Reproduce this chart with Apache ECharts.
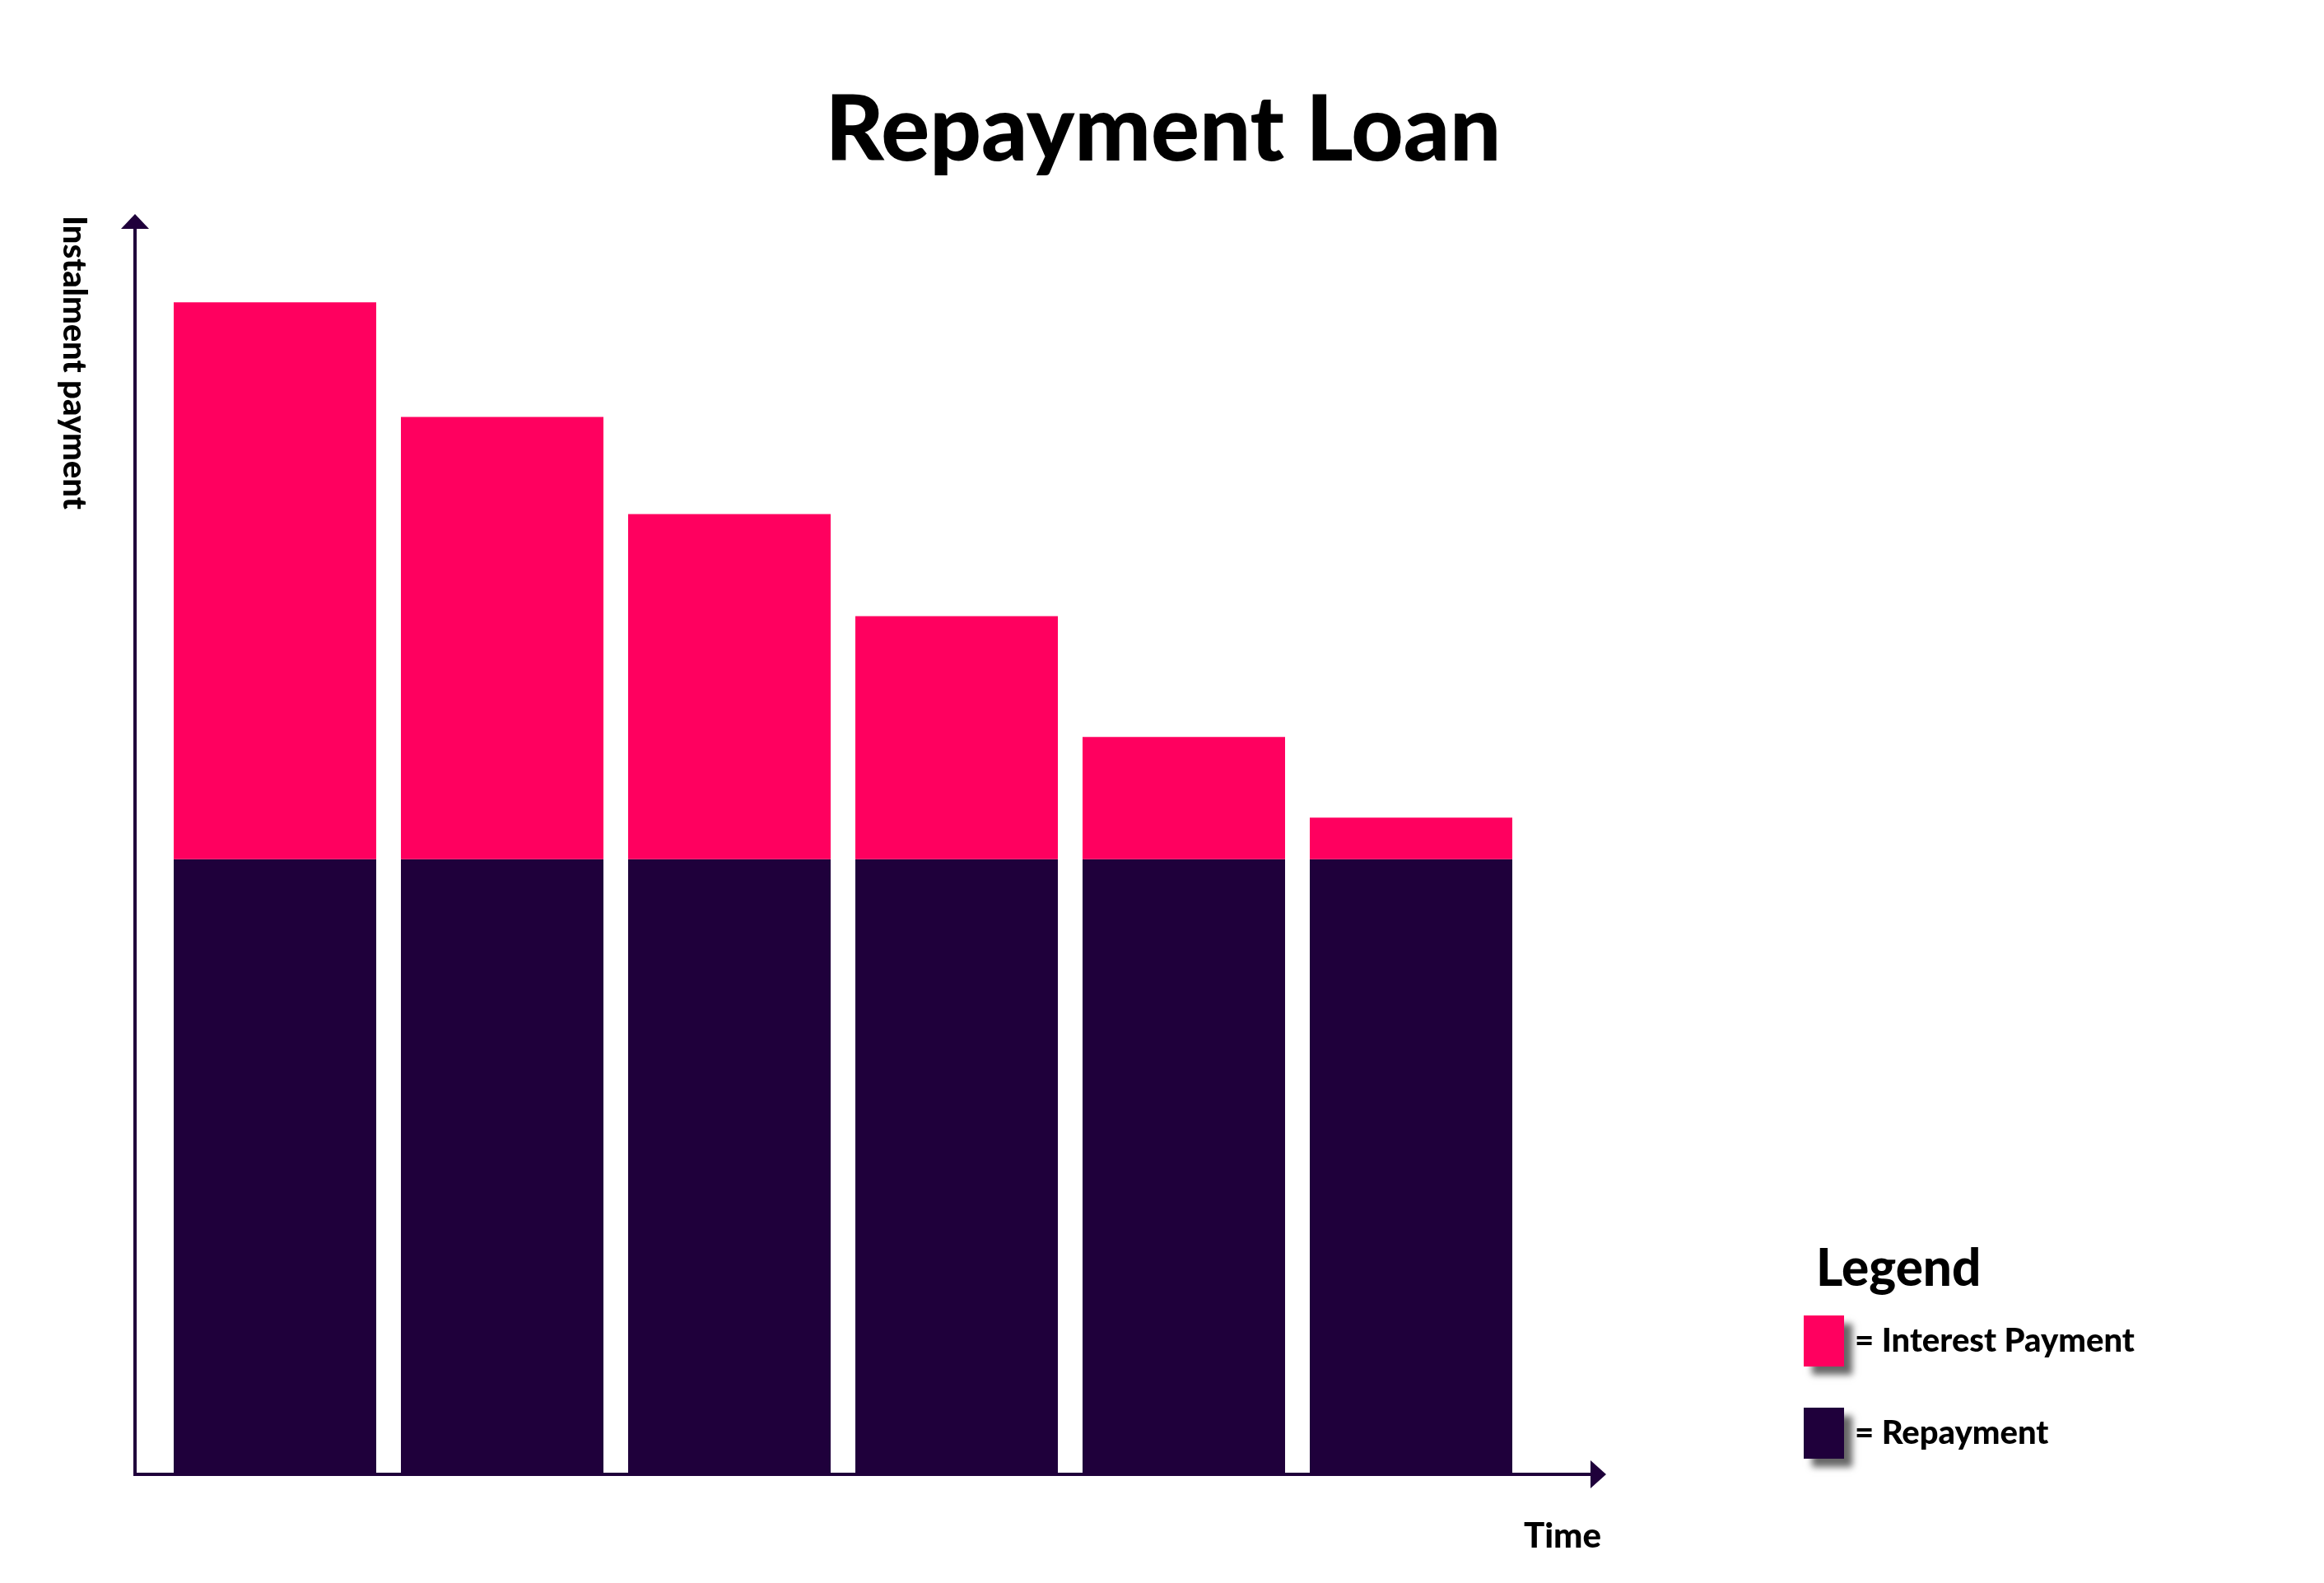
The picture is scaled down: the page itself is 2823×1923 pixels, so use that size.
<!DOCTYPE html>
<html><head><meta charset="utf-8">
<script src="https://cdn.jsdelivr.net/npm/echarts@6/dist/echarts.min.js"></script>
<style>html,body{margin:0;padding:0;background:#fff}#c{width:2823px;height:1923px}</style>
</head><body><div id="c"></div>
<script>
const categories = ['1','2','3','4','5','6'];
const repayment = [48.8, 48.8, 48.8, 48.8, 48.8, 48.8];
const interest = [44.2, 35.1, 27.4, 19.3, 9.7, 3.3];
const DARK = '#1f003b', PINK = '#ff005f';
const F = 'Lato, "Open Sans", sans-serif';
const chart = echarts.init(document.getElementById('c'));
chart.setOption({
  backgroundColor: '#fff',
  animation: false,
  title: {text: 'Repayment Loan', left: 1408, top: 100, textAlign: 'center',
    textStyle: {fontFamily: F, fontWeight: 900, fontSize: 110, color: '#000'}},
  legend: {orient: 'vertical', left: 2186, top: 1593, itemWidth: 49, itemHeight: 62, itemGap: 50,
    icon: 'rect', data: ['Interest Payment', 'Repayment'],
    formatter: n => '= ' + n,
    textStyle: {fontFamily: F, fontWeight: 900, fontSize: 40, color: '#000', padding: [0,0,0,8]},
    itemStyle: {shadowBlur: 8, shadowOffsetX: 10, shadowOffsetY: 10, shadowColor: 'rgba(0,0,0,0.6)'}},
  grid: {left: 196, width: 1656, top: 260, bottom: 1923 - 1791},
  xAxis: {type: 'category', data: categories, axisLine: {show: false}, axisTick: {show: false}, axisLabel: {show: false}},
  yAxis: {type: 'value', min: 0, max: 100, axisLine: {show: false}, axisTick: {show: false}, axisLabel: {show: false}, splitLine: {show: false}},
  series: [
    {name: 'Repayment', type: 'bar', stack: 't', data: repayment, barWidth: 246, itemStyle: {color: DARK}},
    {name: 'Interest Payment', type: 'bar', stack: 't', data: interest, barWidth: 246,
      itemStyle: {color: PINK, borderColor: '#fff', borderWidth: 0}}
  ],
  graphic: [
    {type: 'line', shape: {x1: 164, y1: 1791, x2: 164, y2: 275}, style: {stroke: DARK, lineWidth: 4}},
    {type: 'polygon', shape: {points: [[147, 278], [181, 278], [164, 260]]}, style: {fill: DARK}},
    {type: 'line', shape: {x1: 162, y1: 1791, x2: 1935, y2: 1791}, style: {stroke: DARK, lineWidth: 4}},
    {type: 'polygon', shape: {points: [[1932, 1774], [1932, 1808], [1951, 1791]]}, style: {fill: DARK}},
    {type: 'text', x: 90, y: 262, rotation: -Math.PI / 2,
      style: {text: 'Instalment payment', fontFamily: F, fontWeight: 900, fontSize: 40, fill: '#000', textAlign: 'left', textVerticalAlign: 'middle'}},
    {type: 'text', x: 1945, y: 1866,
      style: {text: 'Time', fontFamily: F, fontWeight: 900, fontSize: 42, fill: '#000', textAlign: 'right', textVerticalAlign: 'middle'}},
    {type: 'text', x: 2206, y: 1542,
      style: {text: 'Legend', fontFamily: F, fontWeight: 900, fontSize: 62, fill: '#000', textAlign: 'left', textVerticalAlign: 'middle'}}
  ]
});
</script></body></html>
